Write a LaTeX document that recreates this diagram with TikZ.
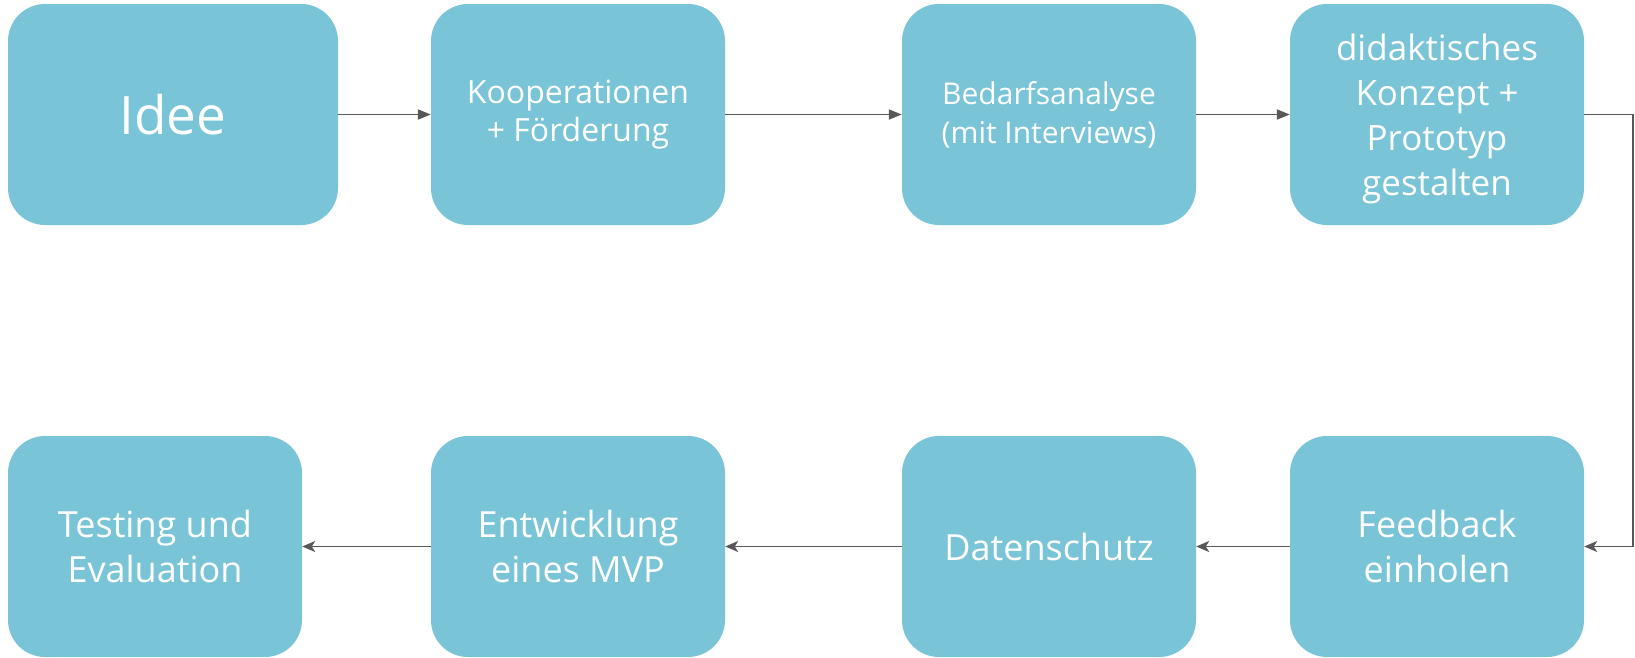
\documentclass[tikz,border=0pt]{standalone}
\usepackage{fontspec}
\setmainfont{Open Sans}
\usetikzlibrary{arrows.meta}
\definecolor{boxc}{RGB}{122,196,215}
\definecolor{linec}{RGB}{88,88,88}
\tikzset{
  stepbox/.style={rectangle, rounded corners=37pt, fill=boxc, text=white, align=center,
    inner sep=0pt, minimum width=294pt, minimum height=221pt},
  conn/.style={draw=linec, line width=1.9pt},
  toparrow/.style={conn, -{Triangle[length=13pt,width=10pt]}},
  botarrow/.style={conn, -{Stealth[length=13pt,width=11pt,inset=3.5pt]}},
  fsA/.style={font=\fontsize{53}{60}\selectfont},
  fsB/.style={font=\fontsize{32}{38}\selectfont},
  fsC/.style={font=\fontsize{30}{39}\selectfont},
  fsD/.style={font=\fontsize{35}{45}\selectfont},
  fsE/.style={font=\fontsize{36}{45}\selectfont}
}
\begin{document}
\begin{tikzpicture}[x=1pt,y=-1pt]
\useasboundingbox (0,0) rectangle (1635,657);
\node[stepbox, fsA, minimum width=330pt] (a) at (173,114.5) {Idee};
\node[stepbox, fsB] (b) at (578,114.5) {Kooperationen\\+ Förderung};
\node[stepbox, fsC] (c) at (1049,114.5) {Bedarfsanalyse\\(mit Interviews)};
\node[stepbox, fsD] (d) at (1437,114.5) {};
\node[fsD, text=white, align=center, inner sep=0pt] (dt) at ([yshift=-4pt]d.center) {didaktisches\\Konzept +\\Prototyp\\gestalten};
\node[stepbox, fsE] (e) at (155,546.5) {Testing und\\Evaluation};
\node[stepbox, fsE] (f) at (578,546.5) {Entwicklung\\eines MVP};
\node[stepbox, fsE] (g) at (1049,546.5) {Datenschutz};
\node[stepbox, fsE] (h) at (1437,546.5) {Feedback\\einholen};
\coordinate (r) at (1633,114.5);
\draw[toparrow] (a.east) -- (b.west);
\draw[toparrow] (b.east) -- (c.west);
\draw[toparrow] (c.east) -- (d.west);
\draw[botarrow] (d.east) -- (r) |- (h.east);
\draw[botarrow] (h.west) -- (g.east);
\draw[botarrow] (g.west) -- (f.east);
\draw[botarrow] (f.west) -- (e.east);
\end{tikzpicture}
\end{document}
